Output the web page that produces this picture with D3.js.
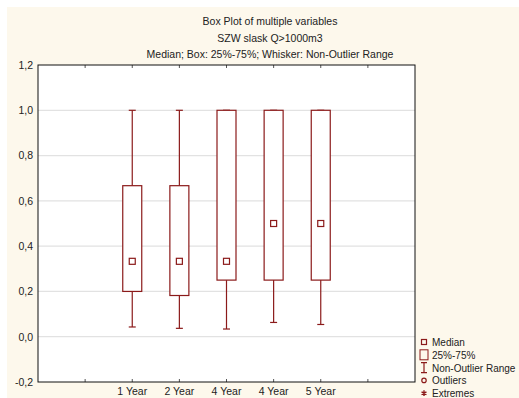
<!DOCTYPE html>
<html>
<head>
<meta charset="utf-8">
<script src="https://cdn.jsdelivr.net/npm/d3@7"></script>
<style>
  body { margin: 0; background: #fff; }
  svg { display: block; font-family: "Liberation Sans", Arial, sans-serif; }
</style>
</head>
<body>
<script>
// box plot values
const categories = ['1 Year', '2 Year', '4 Year', '4 Year', '5 Year']
const medians = [0.333, 0.333, 0.333, 0.5, 0.5]
const q1 = [0.2, 0.182, 0.25, 0.25, 0.25]
const q3 = [0.667, 0.667, 1.0, 1.0, 1.0]
const whiskLow = [0.043, 0.037, 0.034, 0.063, 0.054]
const whiskHigh = [1.0, 1.0, 1.0, 1.0, 1.0]
const yTicks = [-0.2, 0, 0.2, 0.4, 0.6, 0.8, 1.0, 1.2]
const titles = ['Box Plot of multiple variables', 'SZW slask Q>1000m3', 'Median; Box: 25%-75%; Whisker: Non-Outlier Range']
const legendItems = ['Median', '25%-75%', 'Non-Outlier Range', 'Outliers', 'Extremes']

const W = 519, H = 398
const red = '#8b1a1a'
const fs = 10.5
const margin = {top: 65, right: 104, bottom: 16, left: 38}
const width = W - margin.left - margin.right,
      height = H - margin.top - margin.bottom

const svg = d3.select('body').append('svg').attr('width', W).attr('height', H)
svg.append('rect').attr('x', 7).attr('y', 7).attr('width', W - 7).attr('height', H - 7).attr('fill', '#fdf8ec')

const x = d3.scaleLinear().domain([0, 8]).range([0, width])
const y = d3.scaleLinear().domain([-0.2, 1.2]).range([height, 0])

const g = svg.append('g').attr('transform', 'translate(' + margin.left + ',' + margin.top + ')')
g.append('rect').attr('width', width).attr('height', height).attr('fill', '#fff')

// gridlines
g.selectAll('.grid').data(yTicks.filter(d => d > -0.2 && d < 1.2)).join('line')
  .attr('x1', 0).attr('x2', width)
  .attr('y1', d => y(d)).attr('y2', d => y(d))
  .attr('stroke', '#e2e2e2').attr('stroke-width', 1.2)

// y axis labels
g.append('g')
  .call(d3.axisLeft(y).tickValues(yTicks).tickSize(0).tickPadding(5)
    .tickFormat(d => d3.format('.1f')(d).replace('.', ',').replace('−', '-')))
  .call(a => a.select('.domain').remove())
  .selectAll('text').attr('font-size', fs).attr('font-family', 'Liberation Sans, Arial').attr('fill', '#222')

// ticks top / bottom
const tickPos = d3.range(1, 8)
g.selectAll('.tb').data(tickPos).join('line')
  .attr('x1', d => x(d)).attr('x2', d => x(d)).attr('y1', height).attr('y2', height - 3)
  .attr('stroke', '#555')
g.selectAll('.tt').data(tickPos).join('line')
  .attr('x1', d => x(d)).attr('x2', d => x(d)).attr('y1', 0).attr('y2', 3)
  .attr('stroke', '#555')

// x labels
g.selectAll('.xl').data(categories).join('text')
  .attr('x', (d, i) => x(i + 2)).attr('y', height + 13)
  .attr('text-anchor', 'middle').attr('font-size', fs).attr('fill', '#222')
  .text(d => d)

// whiskers
const bw = 19, cw = 7
const boxes = g.selectAll('.box').data(categories).join('g')
boxes.append('line')
  .attr('x1', (d, i) => x(i + 2)).attr('x2', (d, i) => x(i + 2))
  .attr('y1', (d, i) => y(whiskLow[i])).attr('y2', (d, i) => y(q1[i]))
  .attr('stroke', red).attr('stroke-width', 1.2)
boxes.append('line')
  .attr('x1', (d, i) => x(i + 2)).attr('x2', (d, i) => x(i + 2))
  .attr('y1', (d, i) => y(whiskHigh[i])).attr('y2', (d, i) => y(q3[i]))
  .attr('stroke', red).attr('stroke-width', 1.2)
boxes.append('line')
  .attr('x1', (d, i) => x(i + 2) - cw / 2).attr('x2', (d, i) => x(i + 2) + cw / 2)
  .attr('y1', (d, i) => y(whiskLow[i])).attr('y2', (d, i) => y(whiskLow[i]))
  .attr('stroke', red).attr('stroke-width', 1.2)
boxes.append('line')
  .attr('x1', (d, i) => x(i + 2) - cw / 2).attr('x2', (d, i) => x(i + 2) + cw / 2)
  .attr('y1', (d, i) => y(whiskHigh[i])).attr('y2', (d, i) => y(whiskHigh[i]))
  .attr('stroke', red).attr('stroke-width', 1.2)
boxes.append('rect')
  .attr('x', (d, i) => x(i + 2) - bw / 2).attr('width', bw)
  .attr('y', (d, i) => y(q3[i])).attr('height', (d, i) => y(q1[i]) - y(q3[i]))
  .attr('fill', '#fff').attr('stroke', red).attr('stroke-width', 1.2)
boxes.append('rect')
  .attr('x', (d, i) => x(i + 2) - 3).attr('y', (d, i) => y(medians[i]) - 3)
  .attr('width', 6).attr('height', 6)
  .attr('fill', '#fff').attr('stroke', red).attr('stroke-width', 1.2)

// frame
g.append('rect').attr('width', width).attr('height', height)
  .attr('fill', 'none').attr('stroke', '#111').attr('stroke-width', 1)

// titles
svg.selectAll('.title').data(titles).join('text')
  .attr('x', 270).attr('y', (d, i) => 25 + i * 16.5)
  .attr('text-anchor', 'middle').attr('font-size', fs).attr('fill', '#222')
  .text(d => d)

// legend
const lx = 424, ly0 = 342, ldy = 12.8
const leg = svg.append('g')
leg.selectAll('text').data(legendItems).join('text')
  .attr('x', lx + 8).attr('y', (d, i) => ly0 + i * ldy + 4)
  .attr('font-size', 10).attr('fill', '#222').text(d => d)
leg.append('rect').attr('x', lx - 2.5).attr('y', ly0 - 2.5).attr('width', 5).attr('height', 5)
  .attr('fill', 'none').attr('stroke', red).attr('stroke-width', 1.2)
leg.append('rect').attr('x', lx - 4).attr('y', ly0 + ldy - 5).attr('width', 8).attr('height', 10)
  .attr('fill', 'none').attr('stroke', red).attr('stroke-width', 1)
const nl = ly0 + 2 * ldy
leg.append('path').attr('d', `M${lx - 3},${nl - 5}H${lx + 3}M${lx},${nl - 5}V${nl + 5}M${lx - 3},${nl + 5}H${lx + 3}`)
  .attr('stroke', red).attr('stroke-width', 1.2).attr('fill', 'none')
leg.append('circle').attr('cx', lx).attr('cy', ly0 + 3 * ldy).attr('r', 2.2)
  .attr('fill', 'none').attr('stroke', red).attr('stroke-width', 1.2)
leg.append('path')
  .attr('transform', 'translate(' + lx + ',' + (ly0 + 4 * ldy) + ')')
  .attr('d', d3.symbol(d3.symbolAsterisk, 22)())
  .attr('stroke', red).attr('stroke-width', 1.4).attr('fill', 'none')
</script>
</body>
</html>
